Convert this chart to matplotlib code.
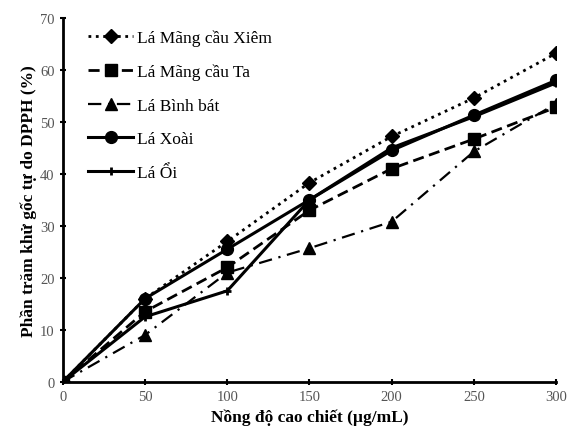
import matplotlib.pyplot as plt
import numpy as np

# nong do (ug/mL)
conc = [0, 50, 100, 150, 200, 250, 300]

xiem = [0, 16, 27, 38.3, 47.2, 54.6, 63.2]
ta = [0, 13.5, 22, 33, 41, 46.7, 52.8]
binh_bat = [0, 9, 21, 25.7, 30.8, 44.3, 53.5]
xoai = [0, 16, 25.5, 35, 44.5, 51.3, 58]
oi = [0, 12.5, 17.5, 35, 45, 51, 57.5]

labels = ["Lá Mãng cầu Xiêm", "Lá Mãng cầu Ta", "Lá Bình bát", "Lá Xoài", "Lá Ổi"]
xticks = [0, 50, 100, 150, 200, 250, 300]
yticks = [0, 10, 20, 30, 40, 50, 60, 70]

plt.rcParams['font.family'] = ['Liberation Serif', 'DejaVu Serif']

fig = plt.figure(figsize=(5.71, 4.39), dpi=100)
ax = fig.add_axes([0.110, 0.128, 0.864, 0.829])

ax.plot(conc, xiem, color='black', linestyle=':', linewidth=2, marker='D', markersize=7, label=labels[0])
ax.plot(conc, ta, color='black', linestyle=(0, (4, 2)), linewidth=2, marker='s', markersize=8.5, label=labels[1])
ax.plot(conc, binh_bat, color='black', linestyle=(0, (6, 3, 1, 3)), linewidth=1.6, marker='^', markersize=8.5, label=labels[2])
ax.plot(conc, xoai, color='black', linestyle='-', linewidth=2.2, marker='o', markersize=8.5, label=labels[3])
ax.plot(conc, oi, color='black', linestyle='-', linewidth=2.2, marker='+', markersize=6, markeredgewidth=2, label=labels[4])

ax.set_xlim(0, 300)
ax.set_ylim(0, 70)
ax.set_xticks(xticks)
ax.set_yticks(yticks)
ax.tick_params(axis='both', labelsize=10.5, width=1.5, length=5, direction='inout')
for lab in ax.get_xticklabels() + ax.get_yticklabels():
    lab.set_color('#555555')

for s in ['top', 'right']:
    ax.spines[s].set_visible(False)
ax.spines['left'].set_linewidth(2)
ax.spines['bottom'].set_linewidth(2)

ax.set_xlabel("Nồng độ cao chiết (µg/mL)", fontsize=12.5, fontweight='bold', labelpad=4)
ax.set_ylabel("Phần trăm khử gốc tự do DPPH (%)", fontsize=12.5, fontweight='bold', labelpad=2)

ax.legend(loc='upper left', bbox_to_anchor=(0.02, 1.01), frameon=False, fontsize=12.5,
          handlelength=2.6, handletextpad=0.2, labelspacing=1.0)

plt.savefig('out.png', dpi=100)
